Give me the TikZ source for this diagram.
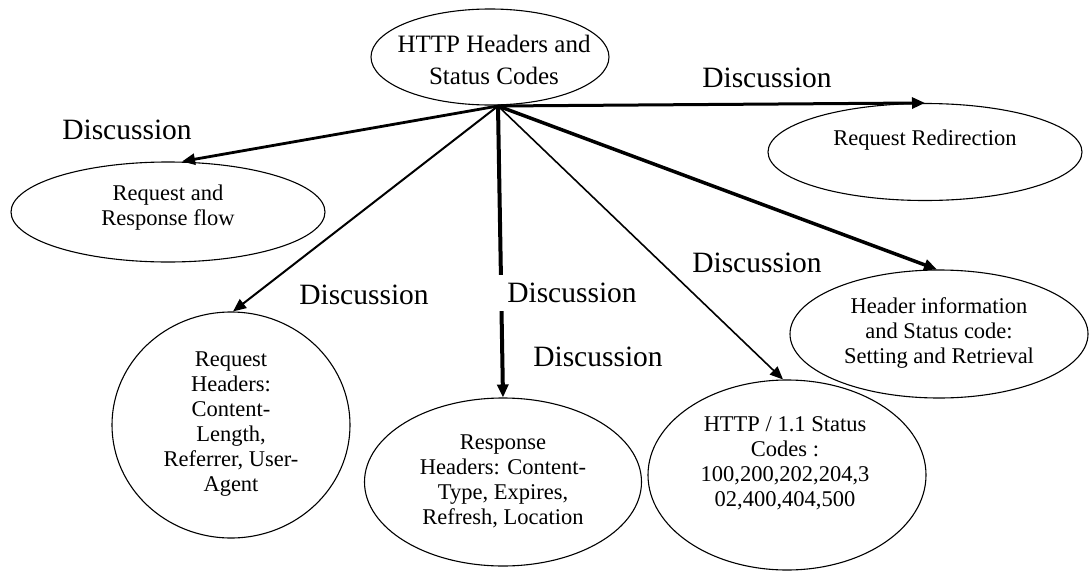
\documentclass[tikz,border=0pt]{standalone}
\usepackage{fontspec}
\setmainfont{Liberation Serif}
\usetikzlibrary{arrows.meta,shapes.geometric}

\begin{document}
\begin{tikzpicture}[x=1pt,y=-1pt,
  topic/.style={draw=black, line width=1.1pt, ellipse, inner sep=0pt},
  topictext/.style={align=center, inner sep=0pt, font=\fontsize{22.5}{25}\selectfont},
  conn/.style={draw=black, -{Triangle[length=13pt,width=11pt]}},
  disc/.style={fill=white, inner sep=2pt, font=\fontsize{29.5}{32}\selectfont}]

  % page frame
  \fill[white] (0,0) rectangle (1090,573);
  \useasboundingbox (0,0) rectangle (1090,573);

  % ellipses
  \node[topic, minimum width=238pt, minimum height=96pt] (main) at (490,57) {};
  \node[topic, minimum width=314pt, minimum height=97pt] (redir) at (925,152) {};
  \node[topic, minimum width=314pt, minimum height=100pt] (flow) at (168,212) {};
  \node[topic, minimum width=238pt, minimum height=226pt] (reqh) at (231,425) {};
  \node[topic, minimum width=277pt, minimum height=168pt] (resh) at (503,482) {};
  \node[topic, minimum width=278pt, minimum height=190pt] (codes) at (787,475) {};
  \node[topic, minimum width=298pt, minimum height=128pt] (setget) at (939,334) {};

  % texts inside the ellipses
  \node[topictext, font=\fontsize{25}{32}\selectfont] (main-t) at (494,60) {HTTP Headers and\\Status Codes};
  \node[topictext] (redir-t) at (925,140) {Request Redirection};
  \node[topictext] (flow-t) at (168,208) {Request and\\Response flow};
  \node[topictext] (reqh-t) at (231,424) {Request\\Headers:\\Content-\\Length,\\Referrer, User-\\Agent};
  \node[topictext] (resh-t) at (503,481) {Response\\Headers: Content-\\Type, Expires,\\Refresh, Location};
  \node[topictext] (codes-t) at (785,463) {HTTP / 1.1 Status\\Codes :\\100,200,202,204,3\\02,400,404,500};
  \node[topictext] (setget-t) at (939,333) {Header information\\and Status code:\\Setting and Retrieval};

  % connectors from the hub under the main topic
  \coordinate (hub) at (498,106);
  \draw[conn, line width=3pt] (hub) -- (redir.north);
  \draw[conn, line width=2.8pt] (hub) -- ([xshift=14pt]flow.north);
  \draw[conn, line width=2pt] (hub) -- ([xshift=2pt]reqh.north);
  \draw[conn, line width=4pt] (hub) -- (resh.north);
  \draw[conn, line width=1.6pt] (hub) -- ([xshift=-4pt]codes.north);
  \draw[conn, line width=3.5pt] (hub) -- ([xshift=-2pt]setget.north);

  % connector labels
  \node[disc] (d1) at (127,130) {Discussion};
  \node[disc] (d2) at (767,78) {Discussion};
  \node[disc] (d3) at (364,295) {Discussion};
  \node[disc, inner xsep=10pt, inner ysep=8pt] (d4) at (572,293) {Discussion};
  \node[disc] (d5) at (598,357) {Discussion};
  \node[disc] (d6) at (757,263) {Discussion};
\end{tikzpicture}
\end{document}
